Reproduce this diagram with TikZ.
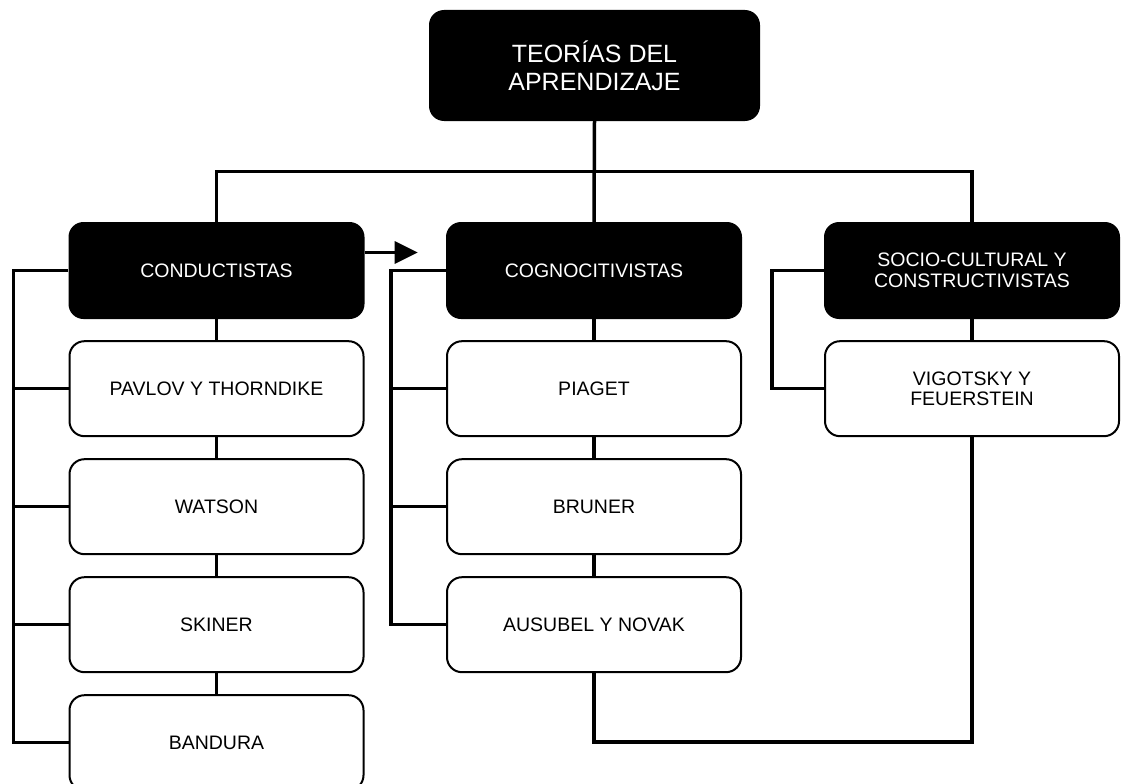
\documentclass[tikz,border=0pt]{standalone}
\usepackage{fontspec}
\setmainfont{Liberation Sans}
\usetikzlibrary{arrows.meta, positioning, calc}

\begin{document}
\begin{tikzpicture}[x=1pt, y=-1pt,
    headbox/.style={rectangle, rounded corners=15pt, fill=black, text=white,
        minimum width=296pt, minimum height=97pt, inner sep=0pt, align=center,
        font=\fontsize{19.5}{20.5}\selectfont},
    namebox/.style={rectangle, rounded corners=15pt, draw=black, line width=2pt, fill=white,
        minimum width=294pt, minimum height=95pt, inner sep=0pt, align=center,
        font=\fontsize{19.5}{20.5}\selectfont},
    link/.style={line width=3.5pt}]

    \useasboundingbox (0,0) rectangle (1122,784);

    % --- ROOT ---
    \node[headbox, minimum width=331pt, minimum height=111pt, font=\fontsize{25}{28}\selectfont]
        (root) at (594.5,65.5) {TEORÍAS DEL\\APRENDIZAJE};

    % --- THREE SCHOOLS ---
    \node[headbox] (cond) at (216.5,270.5) {CONDUCTISTAS};
    \node[headbox] (cog) at (594,270.5) {COGNOCITIVISTAS};
    \node[headbox] (socio) at (972,270.5) {SOCIO-CULTURAL Y\\CONSTRUCTIVISTAS};

    % Authors under each school
    \node[namebox, below=21pt of cond] (pavlov) {PAVLOV Y THORNDIKE};
    \node[namebox, below=21pt of pavlov] (watson) {WATSON};
    \node[namebox, below=21pt of watson] (skiner) {SKINER};
    \node[namebox, below=21pt of skiner] (bandura) {BANDURA};

    \node[namebox, below=21pt of cog] (piaget) {PIAGET};
    \node[namebox, below=21pt of piaget] (bruner) {BRUNER};
    \node[namebox, below=21pt of bruner] (ausubel) {AUSUBEL Y NOVAK};

    \node[namebox, below=21pt of socio] (vig) {VIGOTSKY Y\\FEUERSTEIN};

    % --- TREE FROM THE ROOT ---
    \coordinate (bar) at ($(root.south)!0.5!(cog.north)$);
    \draw[link] (root.south) -- (cog.north);
    \draw[link] (cond.north) |- (bar) -| (socio.north);

    % Vertical chains
    \foreach \a/\b in {cond/pavlov, pavlov/watson, watson/skiner, skiner/bandura,
                       cog/piaget, piaget/bruner, bruner/ausubel, socio/vig}
        \draw[link] (\a.south) -- (\b.north);

    % --- SIDE BRACKETS ---
    \draw[link] (cond.west) -- ++(-55,0) |- (bandura.west);
    \foreach \n in {pavlov, watson, skiner}
        \draw[link] (\n.west) -- ++(-55,0);

    \draw[link] (cog.west) -- ++(-55,0) |- (ausubel.west);
    \foreach \n in {piaget, bruner}
        \draw[link] (\n.west) -- ++(-55,0);

    \draw[link] (socio.west) -- ++(-52,0) |- (vig.west);

    % --- ARROW AND BOTTOM LINK ---
    \draw[line width=3pt, -{Triangle[length=23pt, width=22pt]}]
        ([yshift=18pt]cond.east) -- ++(53,0);
    \draw[link] (ausubel.south) -- ++(0,69) -| (vig.south);

\end{tikzpicture}
\end{document}
